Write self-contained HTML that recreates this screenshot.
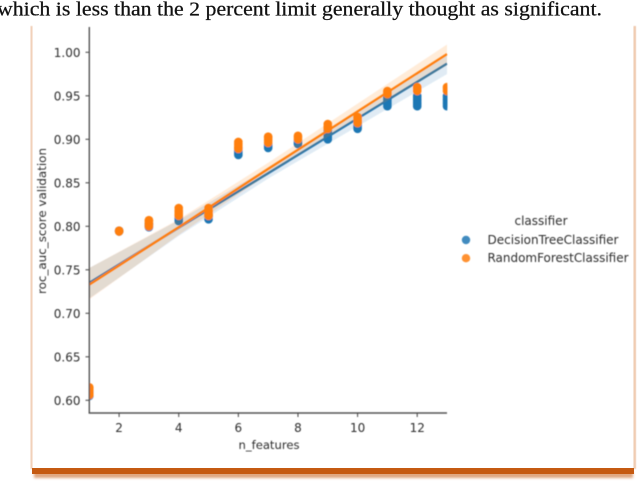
<!DOCTYPE html>
<html>
<head>
<meta charset="utf-8">
<style>
html,body{margin:0;padding:0;background:#fff;width:640px;height:482px;overflow:hidden}
svg{display:block}
text{font-family:"DejaVu Sans","Liberation Sans",sans-serif;fill:#2e2e2e}
</style>
</head>
<body>
<svg id="chart" width="640" height="482" viewBox="0 0 640 482" xmlns="http://www.w3.org/2000/svg">
  <defs>
    <filter id="soft" x="-5%" y="-5%" width="110%" height="110%"><feGaussianBlur stdDeviation="0.6"/></filter>
    <filter id="softer" x="-5%" y="-80%" width="110%" height="260%"><feGaussianBlur stdDeviation="1.3"/></filter>
    <clipPath id="plot-clip"><rect x="89.3" y="27" width="358" height="386"/></clipPath>
  </defs>
  <text x="-3" y="15.5" textLength="605" lengthAdjust="spacingAndGlyphs" style="font-family:'Liberation Serif',serif;font-size:20px;fill:#111;stroke:#111;stroke-width:0.25">which is less than the 2 percent limit generally thought as significant.</text>
  <g>
    <rect x="30.5" y="26" width="2" height="443" fill="#f0cdb4" filter="url(#soft)"/>
    <rect x="633.5" y="26" width="2.5" height="443" fill="#efc9ae" filter="url(#soft)"/>
    <rect x="34" y="472" width="599" height="6" fill="#dfa67f" filter="url(#softer)"/>
    <rect x="32" y="468" width="602" height="6" fill="#c55a11"/>
  </g>
  <g id="plot" filter="url(#soft)"></g>
</svg>
<script>
var nFeatures = [1,2,3,4,5,6,7,8,9,10,11,12,13];
var blueScores = [
  [0.605,0.608,0.610],[0.794,0.795],[0.799,0.801,0.803],[0.806,0.809,0.812],[0.808,0.811,0.813],
  [0.882,0.884,0.886,0.888,0.890],[0.890,0.892,0.894],[0.8945,0.896,0.898],[0.900,0.9025,0.905,0.9075,0.910],[0.912,0.914,0.916,0.918,0.920],
  [0.938,0.940,0.942,0.944,0.946,0.948,0.950],[0.938,0.940,0.942,0.944,0.946,0.948,0.950],[0.938,0.940,0.942,0.944,0.946,0.948,0.950]
];
var orangeScores = [
  [0.606,0.608,0.611,0.613,0.615],[0.794,0.795],[0.800,0.802,0.804,0.806,0.807],[0.812,0.814,0.816,0.818,0.821],[0.812,0.814,0.816,0.818,0.821],
  [0.889,0.891,0.893,0.895,0.897],[0.896,0.898,0.900,0.902,0.903],[0.900,0.902,0.904],[0.912,0.914,0.915,0.9176],[0.9187,0.9205,0.922,0.924,0.9257],
  [0.952,0.954,0.9555],[0.9555,0.958,0.960],[0.9555,0.958,0.960]
];
var bandX = [1,4,7,10,13];
var blueLine = [0.735,0.7985,0.861,0.924,0.987];
var blueLow = [0.717,0.789,0.855,0.915,0.975];
var blueHigh = [0.752,0.807,0.867,0.932,0.997];
var orangeLine = [0.733,0.7990,0.866,0.932,0.998];
var orangeLow = [0.716,0.790,0.860,0.924,0.985];
var orangeHigh = [0.752,0.808,0.873,0.941,1.009];
var xTicks = [2,4,6,8,10,12];
var yTicks = [0.60,0.65,0.70,0.75,0.80,0.85,0.90,0.95,1.00];
var legendLabels = ["DecisionTreeClassifier","RandomForestClassifier"];

var BLUE = "#1f77b4", ORANGE = "#ff7f0e";
function xScale(v){ return 89.3 + (v - 1) * 29.81; }
function yScale(v){ return 400.3 - (v - 0.60) * 870; }
var NS = "http://www.w3.org/2000/svg";
var plot = document.getElementById("plot");
function mk(tag, attrs, parent){
  var el = document.createElementNS(NS, tag);
  for (var k in attrs) el.setAttribute(k, attrs[k]);
  (parent || plot).appendChild(el);
  return el;
}

var clipped = mk("g", {"clip-path":"url(#plot-clip)"});



function drawDots(xs, series, color, name){
  var g = mk("g", {}, clipped);
  
  
  xs.forEach(function(x, i){
    series[i].forEach(function(v){
      var c = mk("circle", {cx:xScale(x), cy:yScale(v), r:4.3, fill:color}, g);
      
      
    });
  });
}
function drawBand(low, high, color, name){
  var top = bandX.map(function(x,i){ return xScale(x)+","+yScale(high[i]); });
  var bottom = bandX.map(function(x,i){ return xScale(x)+","+yScale(low[i]); }).reverse();
  var p = mk("polygon", {points:top.concat(bottom).join(" "), fill:color, "fill-opacity":0.15}, clipped);
  
  
}
function drawLine(vals, color, name){
  var pts = bandX.map(function(x,i){ return xScale(x)+","+yScale(vals[i]); }).join(" ");
  var l = mk("polyline", {points:pts, fill:"none", stroke:color, "stroke-width":2.3}, clipped);
  
  
}
drawDots(nFeatures, blueScores, BLUE, "decision-tree-points");
drawBand(blueLow, blueHigh, BLUE, "decision-tree-confidence-band");
drawLine(blueLine, BLUE, "decision-tree-regression-line");
drawDots(nFeatures, orangeScores, ORANGE, "random-forest-points");
drawBand(orangeLow, orangeHigh, ORANGE, "random-forest-confidence-band");
drawLine(orangeLine, ORANGE, "random-forest-regression-line");

var ySpine = mk("line", {x1:89.3, y1:27, x2:89.3, y2:413, stroke:"#555", "stroke-width":1.4});


var xSpine = mk("line", {x1:88.6, y1:413, x2:447, y2:413, stroke:"#555", "stroke-width":1.4});



yTicks.forEach(function(v){
  var y = yScale(v);
  var t = mk("line", {x1:85.5, y1:y, x2:89.3, y2:y, stroke:"#444", "stroke-width":1});
  
  
  var s = mk("text", {x:80.5, y:y+4.5, "text-anchor":"end", "font-size":"12"});
  
  
  s.textContent = v.toFixed(2);
});
xTicks.forEach(function(v){
  var x = xScale(v);
  var t = mk("line", {x1:x, y1:413, x2:x, y2:417, stroke:"#444", "stroke-width":1});
  
  
  var s = mk("text", {x:x, y:432, "text-anchor":"middle", "font-size":"12"});
  
  
  s.textContent = String(v);
});

var xTitle = mk("text", {x:269, y:449, "text-anchor":"middle", "font-size":"11.6"});


xTitle.textContent = "n_features";

var yTitle = mk("text", {x:0, y:0, "text-anchor":"middle", "font-size":"11.6", transform:"translate(46 221) rotate(-90)", textLength:"146", lengthAdjust:"spacingAndGlyphs"});


yTitle.textContent = "roc_auc_score validation";

var legend = mk("g", {});


var legendTitle = mk("text", {x:541, y:225, "text-anchor":"middle", "font-size":"12"}, legend);


legendTitle.textContent = "classifier";
var legendColors = [BLUE, ORANGE];
var legendWidths = [131, 141];
legendLabels.forEach(function(name, i){
  var y = 240 + i * 18.2;
  var dot = mk("circle", {cx:466, cy:y, r:4.2, fill:legendColors[i], "fill-opacity":0.85}, legend);
  
  
  var lab = mk("text", {x:487.5, y:y+4, "font-size":"12", textLength:legendWidths[i], lengthAdjust:"spacingAndGlyphs"}, legend);
  
  
  lab.textContent = name;
});
</script>
</body>
</html>
